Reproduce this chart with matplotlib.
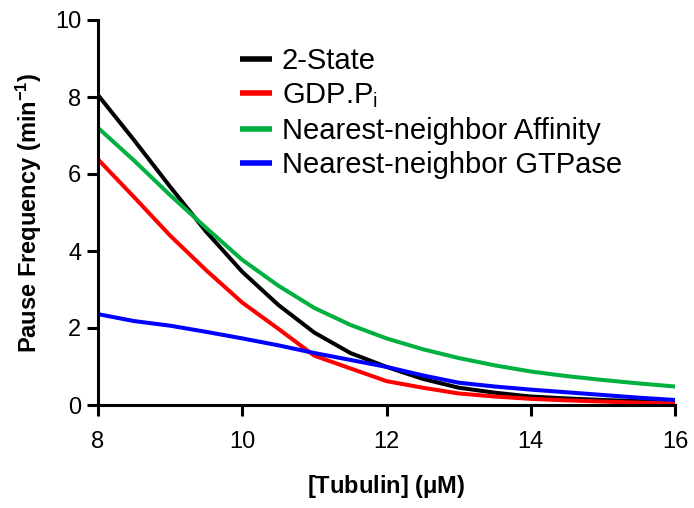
import matplotlib
matplotlib.use("Agg")
import matplotlib.pyplot as plt

plt.rcParams['font.family'] = ['Liberation Sans', 'DejaVu Sans']
plt.rcParams['mathtext.fontset'] = 'custom'
plt.rcParams['mathtext.rm'] = 'Liberation Sans'
plt.rcParams['mathtext.it'] = 'Liberation Sans'
plt.rcParams['mathtext.bf'] = 'Liberation Sans:bold'

tubulin = [8, 8.5, 9, 9.5, 10, 10.5, 11, 11.5, 12, 12.5, 13, 13.5, 14, 14.5, 15, 15.5, 16]
two_state = [8.05, 6.88, 5.67, 4.5, 3.46, 2.6, 1.88, 1.35, 0.99, 0.68, 0.45, 0.32, 0.22, 0.17, 0.13, 0.10, 0.08]
gdp_pi = [6.38, 5.4, 4.4, 3.5, 2.66, 1.98, 1.28, 0.95, 0.62, 0.45, 0.30, 0.22, 0.16, 0.12, 0.09, 0.06, 0.04]
nn_affinity = [7.2, 6.35, 5.45, 4.6, 3.77, 3.1, 2.52, 2.08, 1.73, 1.45, 1.22, 1.03, 0.87, 0.75, 0.65, 0.56, 0.48]
nn_gtpase = [2.36, 2.18, 2.06, 1.9, 1.73, 1.55, 1.35, 1.17, 0.99, 0.77, 0.58, 0.48, 0.40, 0.33, 0.26, 0.19, 0.13]

labels = ['2-State', r'GDP.P$_\mathregular{i}$', 'Nearest-neighbor Affinity', 'Nearest-neighbor GTPase']
colors = ['#000000', '#ff0000', '#00b040', '#0000ff']
x_ticks = [8, 10, 12, 14, 16]
y_ticks = [0, 2, 4, 6, 8, 10]

fig = plt.figure(figsize=(6.94, 5.08), dpi=100)
ax = fig.add_axes([98/694, 1-405/508, (675-98)/694, (405-20)/508])

series = [two_state, gdp_pi, nn_affinity, nn_gtpase]
for ys, c, lab in zip(series, colors, labels):
    ax.plot(tubulin, ys, color=c, lw=2.9, label=lab, solid_capstyle='butt')

ax.set_xlim(8, 16)
ax.set_ylim(0, 10)
ax.set_xticks(x_ticks)
ax.set_yticks(y_ticks)
for s in ['top', 'right']:
    ax.spines[s].set_visible(False)
for s in ['left', 'bottom']:
    ax.spines[s].set_linewidth(2.2)
ax.tick_params(axis='both', width=2.2, length=8, labelsize=17, direction='out')
ax.tick_params(axis='y', pad=4)
ax.tick_params(axis='x', pad=11)

ax.set_xlabel(r'[Tubulin] ($\mathbf{\mu}$M)', fontsize=17, fontweight='bold', labelpad=14)
ax.set_ylabel(r'Pause Frequency (min$^\mathbf{-1}$)', fontsize=17, fontweight='bold', labelpad=8)

leg = ax.legend(loc='upper left', bbox_to_anchor=(0.215, 0.975), frameon=False, fontsize=21,
                handlelength=1.1, handletextpad=0.35, labelspacing=0.22, borderaxespad=0.2)
for h in leg.get_lines():
    h.set_linewidth(4)

fig.savefig('out.png', dpi=100)
